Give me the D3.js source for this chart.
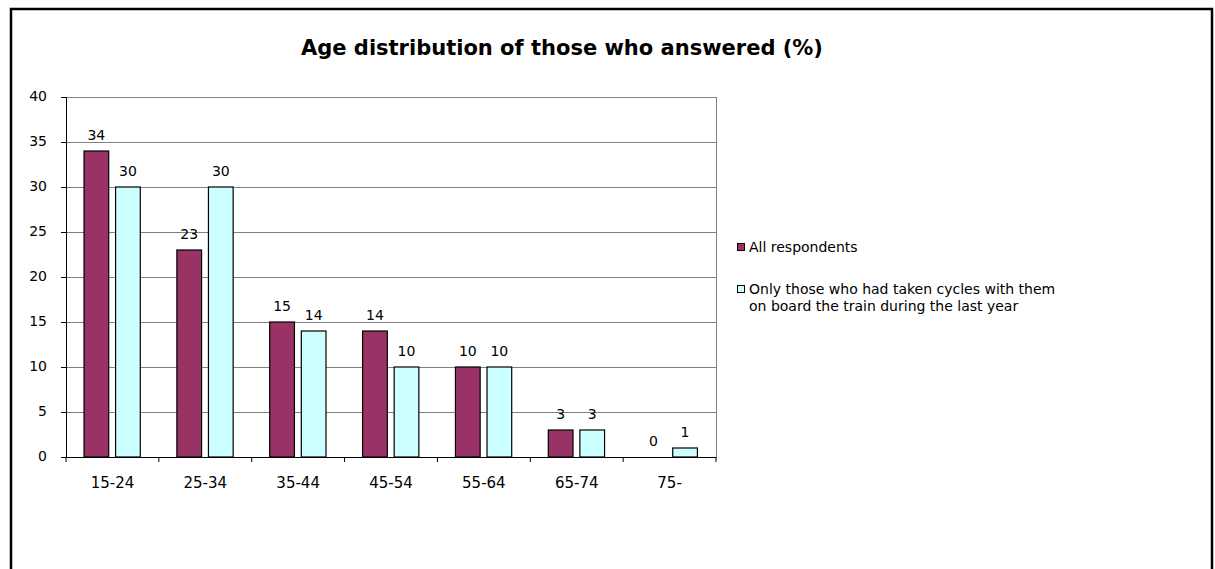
<!DOCTYPE html>
<html>
<head>
<meta charset="utf-8">
<title>Age distribution</title>
<style>
body { margin: 0; background: #fff; }
svg text { font-family: "DejaVu Sans", Verdana, sans-serif; fill: #000; }
.title { font-size: 21px; font-weight: bold; }
.yaxis .tick text { font-size: 14px; }
.xaxis .tick text { font-size: 15px; }
.lbl { font-size: 14px; }
.legend text { font-size: 14px; }
</style>
</head>
<body>
<svg width="1215" height="569"></svg>
<script src="https://cdn.jsdelivr.net/npm/d3@7"></script>
<script>

var categories = ["15-24", "25-34", "35-44", "45-54", "55-64", "65-74", "75-"];
var allRespondents = [34, 23, 15, 14, 10, 3, 0];
var cyclists = [30, 30, 14, 10, 10, 3, 1];
var yTicks = [0, 5, 10, 15, 20, 25, 30, 35, 40];
var seriesNames = ["All respondents", "Only those who had taken cycles with them|on board the train during the last year"];
var seriesColors = ["#993366", "#ccffff"];

var svg = d3.select("svg");

// outer frame
svg.append("rect")
    .attr("x", 11).attr("y", 9)
    .attr("width", 1201).attr("height", 580)
    .attr("fill", "none")
    .attr("stroke", "#000")
    .attr("stroke-width", 2.5);

svg.append("text")
    .attr("class", "title")
    .attr("x", 562).attr("y", 55)
    .attr("text-anchor", "middle")
    .text("Age distribution of those who answered (%)");

var plotL = 66, plotR = 716, plotT = 97, plotB = 457;

var x = d3.scaleBand().domain(categories).range([plotL, plotR]);
var y = d3.scaleLinear().domain([0, 40]).range([plotB, plotT]);

// gridlines
svg.append("g")
  .selectAll("line")
  .data(yTicks.filter(function(d) { return d > 0; }))
  .enter().append("line")
    .attr("x1", plotL).attr("x2", plotR)
    .attr("y1", function(d) { return y(d) + 0.5; })
    .attr("y2", function(d) { return y(d) + 0.5; })
    .attr("stroke", "#808080");

// right plot border
svg.append("line")
    .attr("x1", plotR + 0.5).attr("x2", plotR + 0.5)
    .attr("y1", plotT).attr("y2", plotB)
    .attr("stroke", "#808080");

var series = [allRespondents, cyclists];
var bw = x.bandwidth();
var offsets = [0.194 * bw, 0.534 * bw];
var barW = 0.266 * bw;

series.forEach(function(vals, s) {
  var g = svg.append("g");
  g.selectAll("rect")
    .data(vals)
    .enter().append("rect")
      .attr("x", function(d, i) { return x(categories[i]) + offsets[s]; })
      .attr("y", function(d) { return y(d); })
      .attr("width", barW)
      .attr("height", function(d) { return y(0) - y(d); })
      .attr("fill", seriesColors[s])
      .attr("stroke", function(d) { return d > 0 ? "#000" : "none"; })
      .attr("stroke-width", 1.2);

  g.selectAll("text")
    .data(vals)
    .enter().append("text")
      .attr("class", "lbl")
      .attr("x", function(d, i) { return x(categories[i]) + offsets[s] + barW / 2; })
      .attr("y", function(d) { return y(d) - 11; })
      .attr("text-anchor", "middle")
      .text(function(d) { return d; });
});

// y axis
var yAxis = svg.append("g")
    .attr("class", "yaxis")
    .attr("transform", "translate(" + plotL + ",0)")
    .call(d3.axisLeft(y).tickValues(yTicks).tickSize(5).tickPadding(14));
yAxis.select(".domain").attr("stroke", "#000");
yAxis.selectAll(".tick text").attr("dy", "0.25em");

// x axis
var xAxis = svg.append("g")
    .attr("class", "xaxis")
    .attr("transform", "translate(0," + plotB + ")")
    .call(d3.axisBottom(x).tickSize(0).tickPadding(20));
xAxis.select(".domain").attr("stroke", "#000");
xAxis.selectAll(".sep")
  .data(categories.concat([""]))
  .enter().append("line")
    .attr("class", "sep")
    .attr("x1", function(d, i) { return plotL + i * bw; })
    .attr("x2", function(d, i) { return plotL + i * bw; })
    .attr("y1", 0).attr("y2", 5)
    .attr("stroke", "#000");

// legend
var legend = svg.append("g").attr("class", "legend");
var legendY = [243, 285];
seriesNames.forEach(function(name, s) {
  legend.append("rect")
      .attr("x", 737.5).attr("y", legendY[s] + 0.5)
      .attr("width", 7).attr("height", 7)
      .attr("fill", seriesColors[s])
      .attr("stroke", "#000");
  name.split("|").forEach(function(line, k) {
    legend.append("text")
        .attr("x", 749)
        .attr("y", legendY[s] + 9 + k * 17)
        .text(line);
  });
});

</script>
</body>
</html>
